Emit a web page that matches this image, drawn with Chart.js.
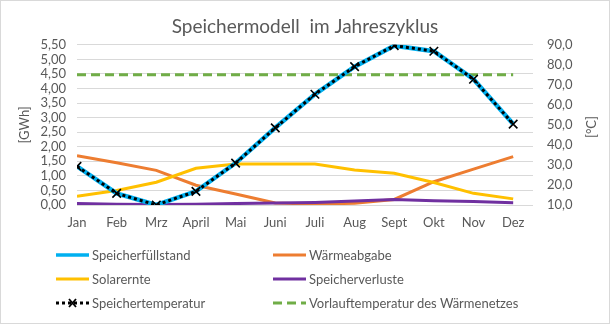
<!DOCTYPE html>
<html>
<head>
<meta charset="utf-8">
<script src="https://cdn.jsdelivr.net/npm/chart.js@4/dist/chart.umd.min.js"></script>
<style>
    html, body { margin: 0; padding: 0; background: #fff; }
    #wrap {
        position: relative;
        width: 608px;
        height: 322px;
        border: 1px solid #d9d9d9;
        font-family: Lato, "Open Sans", sans-serif;
    }
    #chart { position: absolute; left: -1px; top: -1px; }
    .legend-item {
        position: absolute;
        height: 16px;
        font-size: 13px;
        color: #595959;
        line-height: 16px;
        white-space: nowrap;
    }
    .legend-item svg { position: absolute; left: 0; top: 0; }
    .legend-item span { position: absolute; left: 36px; top: 0; }
</style>
</head>
<body>
<div id="wrap">
    <canvas id="chart" width="610" height="324"></canvas>
</div>
<script>
// Monate
const months = ['Jan', 'Feb', 'Mrz', 'April', 'Mai', 'Juni', 'Juli', 'Aug', 'Sept', 'Okt', 'Nov', 'Dez'];

// linke Achse [GWh]
const speicherfuellstand = [1.33, 0.40, 0.00, 0.47, 1.44, 2.65, 3.80, 4.75, 5.47, 5.28, 4.32, 2.78];
const waermeabgabe = [1.69, 1.45, 1.19, 0.68, 0.38, 0.07, 0.03, 0.06, 0.19, 0.80, 1.23, 1.66];
const solarernte = [0.30, 0.50, 0.78, 1.26, 1.41, 1.41, 1.41, 1.20, 1.09, 0.77, 0.40, 0.21];
const speicherverluste = [0.05, 0.03, 0.02, 0.03, 0.05, 0.07, 0.09, 0.14, 0.19, 0.15, 0.12, 0.08];

// rechte Achse [°C]
const speichertemperatur = [29.3, 15.8, 10.0, 16.8, 30.9, 48.5, 65.3, 79.1, 89.6, 86.8, 72.8, 50.4];
const vorlauftemperatur = [75, 75, 75, 75, 75, 75, 75, 75, 75, 75, 75, 75];

const textColor = '#595959';
const gridColor = '#d9d9d9';
const fontFamily = 'Lato, "Open Sans", sans-serif';

function toPoints(values) {
    return values.map((v, i) => ({ x: i, y: v }));
}

const fmt = (v, digits) => v.toFixed(digits).replace('.', ',');

// Titel der rechten Achse, von unten nach oben gedreht (wie links)
const rightTitlePlugin = {
    id: 'rightTitle',
    afterDraw(chart) {
        const ctx = chart.ctx;
        ctx.save();
        ctx.translate(592, 127);
        ctx.rotate(-Math.PI / 2);
        ctx.font = '13px ' + fontFamily;
        ctx.fillStyle = textColor;
        ctx.textAlign = 'center';
        ctx.textBaseline = 'middle';
        ctx.fillText('[°C]', 0, 0);
        ctx.restore();
    }
};

const datasets = [
    {
        label: 'Speichertemperatur',
        data: toPoints(speichertemperatur),
        yAxisID: 'y1',
        borderColor: '#000000',
        borderWidth: 3,
        borderDash: [3, 3],
        pointStyle: 'crossRot',
        pointRadius: 6,
        pointBorderWidth: 1.6,
        pointBorderColor: '#000000',
        order: 0
    },
    {
        label: 'Speicherfüllstand',
        data: toPoints(speicherfuellstand),
        yAxisID: 'y',
        borderColor: '#00B0F0',
        borderWidth: 4.5,
        pointRadius: 0,
        order: 1
    },
    {
        label: 'Vorlauftemperatur des Wärmenetzes',
        data: toPoints(vorlauftemperatur),
        yAxisID: 'y1',
        borderColor: '#70AD47',
        borderWidth: 3,
        borderDash: [9, 5],
        pointRadius: 0,
        order: 2
    },
    {
        label: 'Speicherverluste',
        data: toPoints(speicherverluste),
        yAxisID: 'y',
        borderColor: '#7030A0',
        borderWidth: 3,
        pointRadius: 0,
        order: 3
    },
    {
        label: 'Solarernte',
        data: toPoints(solarernte),
        yAxisID: 'y',
        borderColor: '#FFC000',
        borderWidth: 3,
        pointRadius: 0,
        order: 4
    },
    {
        label: 'Wärmeabgabe',
        data: toPoints(waermeabgabe),
        yAxisID: 'y',
        borderColor: '#ED7D31',
        borderWidth: 3,
        pointRadius: 0,
        order: 5
    }
];

const chart = new Chart(document.getElementById('chart').getContext('2d'), {
    type: 'line',
    data: { datasets: datasets },
    options: {
        responsive: false,
        animation: false,
        devicePixelRatio: 1,
        layout: { padding: { left: 0, right: 0, top: 0, bottom: 84 } },
        elements: { line: { tension: 0, fill: false } },
        plugins: {
            legend: { display: false },
            tooltip: { enabled: false },
            title: {
                display: true,
                text: 'Speichermodell  im Jahreszyklus',
                color: textColor,
                font: { family: fontFamily, size: 19, weight: 'normal' },
                padding: { top: 15, bottom: 7 }
            }
        },
        scales: {
            x: {
                type: 'linear',
                min: 0,
                max: 11.5,
                grid: { display: false, drawTicks: false },
                border: { display: false },
                afterBuildTicks: (scale) => {
                    scale.ticks = months.map((m, i) => ({ value: i }));
                },
                ticks: {
                    autoSkip: false,
                    maxRotation: 0,
                    padding: 10,
                    color: textColor,
                    font: { family: fontFamily, size: 13 },
                    callback: (v) => months[v]
                },
                afterFit: (scale) => { scale.height = 35; }
            },
            y: {
                position: 'left',
                min: 0,
                max: 5.5,
                grid: { color: gridColor, lineWidth: 1, drawTicks: false },
                border: { display: false },
                ticks: {
                    stepSize: 0.5,
                    autoSkip: false,
                    padding: 11,
                    color: textColor,
                    font: { family: fontFamily, size: 13, lineHeight: 1 },
                    callback: (v) => fmt(v, 2)
                },
                title: {
                    display: true,
                    text: '[GWh]',
                    color: textColor,
                    font: { family: fontFamily, size: 13 },
                    padding: { top: 17, bottom: 0 }
                },
                afterFit: (scale) => { scale.width = 77; }
            },
            y1: {
                position: 'right',
                min: 10,
                max: 90,
                grid: { display: false, drawTicks: false },
                border: { display: false },
                ticks: {
                    stepSize: 10,
                    autoSkip: false,
                    padding: 14,
                    color: textColor,
                    font: { family: fontFamily, size: 13, lineHeight: 1 },
                    callback: (v) => fmt(v, 1)
                },
                afterFit: (scale) => { scale.width = 77; }
            }
        }
    },
    plugins: [rightTitlePlugin]
});

// Legende in zwei Spalten (wie im Original)
const legendOrder = [
    ['Speicherfüllstand', 56, 255],
    ['Wärmeabgabe', 273, 255],
    ['Solarernte', 56, 279],
    ['Speicherverluste', 273, 279],
    ['Speichertemperatur', 56, 303],
    ['Vorlauftemperatur des Wärmenetzes', 273, 303]
];

function legendSymbol(ds) {
    const dash = ds.borderDash ? ds.borderDash.join(' ') : '';
    let svg = '<svg width="34" height="16">' +
        '<line x1="0" y1="8" x2="33" y2="8" stroke="' + ds.borderColor + '" stroke-width="' +
        Math.min(ds.borderWidth, 3.5) + '"' + (dash ? ' stroke-dasharray="' + dash + '"' : '') + '/>';
    if (ds.pointStyle === 'crossRot') {
        svg += '<path d="M13 4 L20 12 M20 4 L13 12" stroke="#000" stroke-width="1.8"/>';
    }
    return svg + '</svg>';
}

const wrap = document.getElementById('wrap');
legendOrder.forEach(([label, x, y]) => {
    const ds = datasets.find(d => d.label === label);
    const item = document.createElement('div');
    item.className = 'legend-item';
    item.style.left = (x - 1) + 'px';
    item.style.top = (y - 9) + 'px';
    item.innerHTML = legendSymbol(ds) + '<span>' + label + '</span>';
    wrap.appendChild(item);
});
</script>
</body>
</html>
